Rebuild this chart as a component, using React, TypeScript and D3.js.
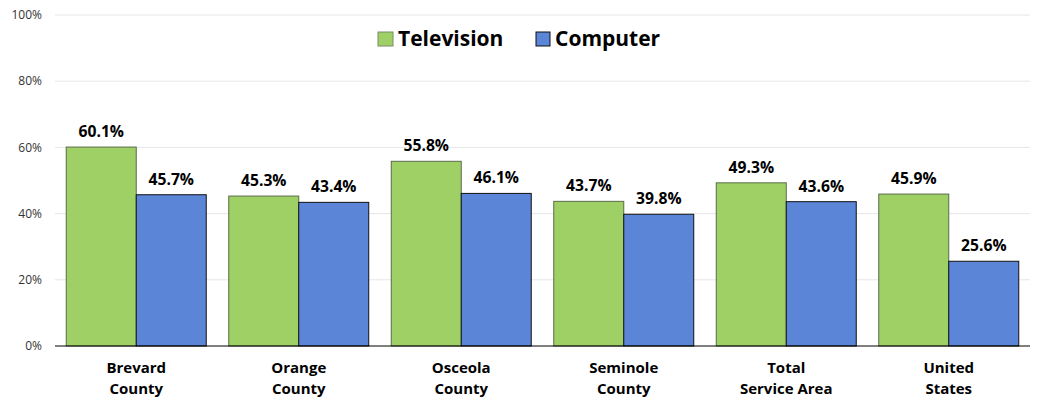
import React from "react";
import * as d3 from "d3";

const categories = ["Brevard|County", "Orange|County", "Osceola|County", "Seminole|County", "Total|Service Area", "United|States"];
const seriesNames = ["Television", "Computer"];
const television = [60.1, 45.3, 55.8, 43.7, 49.3, 45.9];
const computer = [45.7, 43.4, 46.1, 39.8, 43.6, 25.6];
const yTicks = [0, 20, 40, 60, 80, 100];

const colors = ["#9FD066", "#5B85D6"];
const strokes = ["#5a6b4a", "#111"];
const FONT = "'Open Sans', 'Noto Sans', sans-serif";

export default function App() {
  const W = 1037, H = 400;
  const left = 55, right = 1030, top = 15, bottom = 346;
  const x0 = d3.scaleBand<number>().domain(d3.range(categories.length)).range([left, right]).paddingInner(0.1385).paddingOuter(0.0692);
  const x1 = d3.scaleBand<number>().domain([0, 1]).range([0, x0.bandwidth()]);
  const y = d3.scaleLinear().domain([0, 100]).range([bottom, top]);
  const series = [television, computer];

  return (
    <svg width={W} height={H} style={{ position: "absolute", left: 0, top: 0 }} fontFamily={FONT}>
      <rect width={W} height={H} fill="#fff" />
      {yTicks.map((t) => (
        <g key={t}>
          {t > 0 && <line x1={left} x2={right} y1={y(t)} y2={y(t)} stroke="#e6e6e6" strokeWidth={1} />}
          <text x={42} y={y(t)} dy="0.35em" textAnchor="end" fontSize={12} fill="#333">{t}%</text>
        </g>
      ))}
      {categories.map((c, i) => {
        const cx = (x0(i) as number) + x0.bandwidth() / 2;
        return (
          <g key={c}>
            {series.map((s, j) => {
              const bx = (x0(i) as number) + (x1(j) as number);
              const bw = x1.bandwidth();
              return (
                <g key={j}>
                  <rect x={bx} y={y(s[i])} width={bw} height={bottom - y(s[i])} fill={colors[j]} stroke={strokes[j]} strokeWidth={1} />
                  <text x={bx + bw / 2} y={y(s[i]) - 10} textAnchor="middle" fontSize={15.7} fontWeight="bold" fill="#000">{s[i].toFixed(1)}%</text>
                </g>
              );
            })}
            <text x={cx} y={373} textAnchor="middle" fontSize={15} fontWeight="bold" fill="#000">
              {c.split("|").map((line, k) => (
                <tspan key={k} x={cx} dy={k === 0 ? 0 : 21}>{line}</tspan>
              ))}
            </text>
          </g>
        );
      })}
      <line x1={left} x2={right} y1={bottom} y2={bottom} stroke="#000" strokeWidth={1} />
      <g>
        <rect x={378} y={32} width={15} height={14} fill={colors[0]} stroke="#7a8a6a" />
        <text x={398} y={46} fontSize={21} fontWeight="bold" fill="#000">{seriesNames[0]}</text>
        <rect x={536} y={32} width={14} height={14} fill={colors[1]} stroke="#111" />
        <text x={555} y={46} fontSize={21} fontWeight="bold" fill="#000">{seriesNames[1]}</text>
      </g>
    </svg>
  );
}
